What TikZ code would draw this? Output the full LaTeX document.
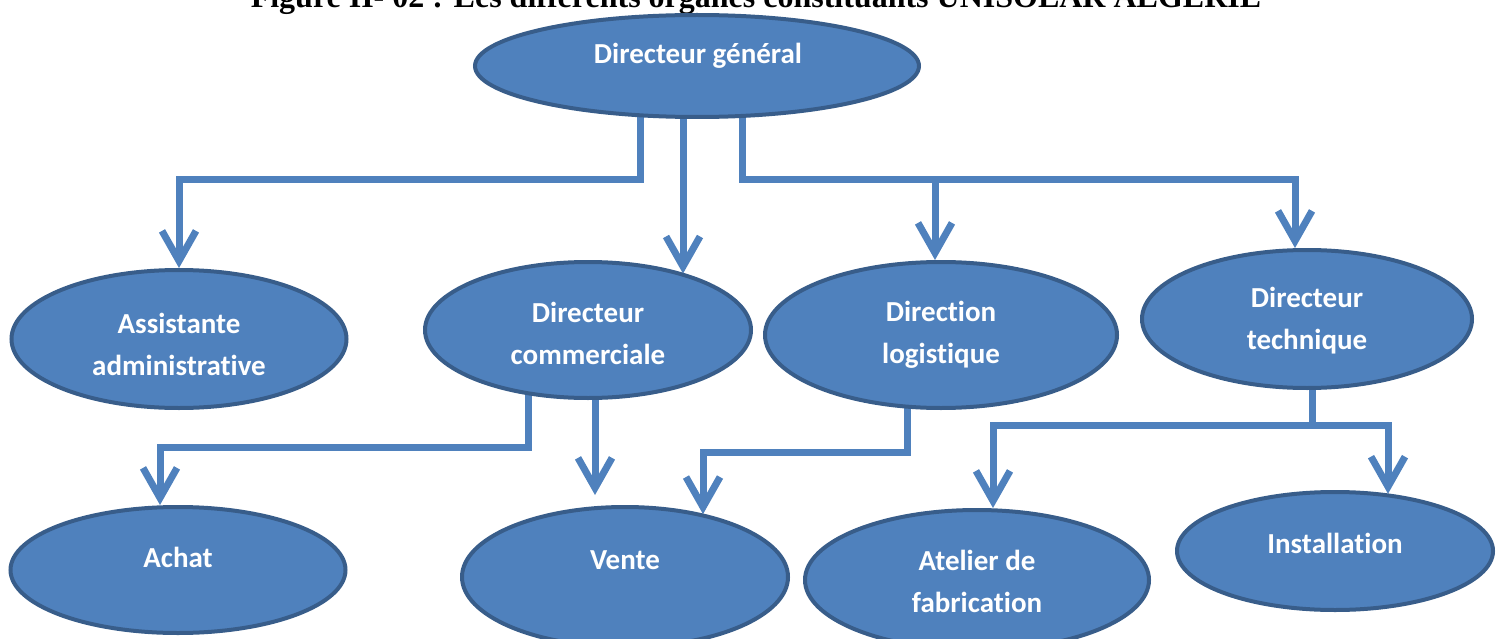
\documentclass[tikz,border=0pt]{standalone}
\usepackage{fontspec}
\setmainfont[Ligatures=NoCommon]{Carlito}
\newfontfamily\titlefont{Liberation Serif}
\usetikzlibrary{shapes.geometric,arrows.meta}
\pgfdeclarelayer{background}
\pgfsetlayers{background,main}
\definecolor{fillblue}{HTML}{4F81BD}
\definecolor{edgeblue}{HTML}{385D8A}
\definecolor{lineblue}{HTML}{4F81BD}
\tikzset{
  org/.style={ellipse, draw=edgeblue, fill=fillblue, line width=4pt, inner sep=0pt},
  lbl/.style={text=white, font=\fontsize{29}{42}\selectfont\bfseries, align=center, inner sep=0pt},
  conn/.style={draw=lineblue, line width=7pt, line join=miter, line cap=butt,
    -{Straight Barb[length=30pt,width=34pt,line width=7pt]}},
  plain/.style={draw=lineblue, line width=7pt, line join=miter, line cap=butt}
}
\begin{document}
\begin{tikzpicture}[x=1pt,y=-1pt]
\useasboundingbox (0,0) rectangle (1501,639);
% title (cut off at top)
\node[anchor=base, font=\titlefont\fontsize{32}{34}\selectfont\bfseries, inner sep=0pt] (title) at (756,8)
  {Figure II- 02 : Les différents organes constituants UNISOLAR ALGERIE};
% ellipses
\node[org, minimum width=444pt, minimum height=102pt] (dg) at (697,66) {};
\node[org, minimum width=335pt, minimum height=138pt] (asst) at (179,339) {};
\node[org, minimum width=326pt, minimum height=136pt] (dcom) at (588,330) {};
\node[org, minimum width=352pt, minimum height=146pt] (dlog) at (941,335) {};
\node[org, minimum width=330pt, minimum height=138pt] (dtech) at (1307,319) {};
\node[org, minimum width=335pt, minimum height=126pt] (achat) at (178,570) {};
\node[org, minimum width=326pt, minimum height=140pt] (vente) at (625,577) {};
\node[org, minimum width=344pt, minimum height=140pt] (atel) at (977,580) {};
\node[org, minimum width=316pt, minimum height=118pt] (inst) at (1335,551) {};
% labels
\node[lbl] (tdg) at (698,56) {Directeur général};
\node[lbl] (tasst) at (179,344) {Assistante\\administrative};
\node[lbl] (tdcom) at (588,333) {Directeur\\commerciale};
\node[lbl] (tdlog) at (941,335) {Direction\\logistique};
\node[lbl] (tdtech) at (1307,321) {Directeur\\technique};
\node[lbl] (tachat) at (178,557) {Achat};
\node[lbl] (tvente) at (625,560) {Vente};
\node[lbl] (tatel) at (977,581) {Atelier de\\fabrication};
\node[lbl] (tinst) at (1335,543) {Installation};
% helper coordinates
\coordinate (x640) at (640,0);
\coordinate (x683) at (683,0);
\coordinate (x742) at (742,0);
\coordinate (x935) at (935,0);
\coordinate (x1295) at (1295,0);
\coordinate (x528) at (528,0);
\coordinate (x160) at (160,0);
\coordinate (x595) at (595,0);
\coordinate (x907) at (907,0);
\coordinate (x703) at (703,0);
\coordinate (x1312) at (1312,0);
\coordinate (x993) at (993,0);
\coordinate (x1388) at (1388,0);
\coordinate (y180) at (0,180);
\coordinate (y447) at (0,447);
\coordinate (y452) at (0,452);
\coordinate (y425) at (0,425);
\begin{pgfonlayer}{background}
\draw[conn] (dg.center -| x640) -- (x640 |- y180) -| (asst.north);
\draw[conn] (dg.center -| x683) -- (x683 |- dcom.30);
\draw[conn] (dg.center -| x742) -- (x742 |- y180) -| (x1295 |- dtech.north);
\draw[conn] (x935 |- y180) -- (x935 |- dlog.north);
\draw[conn] (dcom.center -| x528) -- (x528 |- y447) -| (x160 |- achat.north);
\draw[conn, shorten >=10pt] (dcom.center -| x595) -- (x595 |- vente.north);
\draw[conn] (dlog.center -| x907) -- (x907 |- y452) -| (x703 |- vente.38);
\draw[plain] (dtech.center -| x1312) -- (x1312 |- y425);
\draw[conn] (x1312 |- y425) -| (x993 |- atel.north);
\draw[conn] (x1312 |- y425) -| (x1388 |- inst.46);
\end{pgfonlayer}
\end{tikzpicture}
\end{document}
